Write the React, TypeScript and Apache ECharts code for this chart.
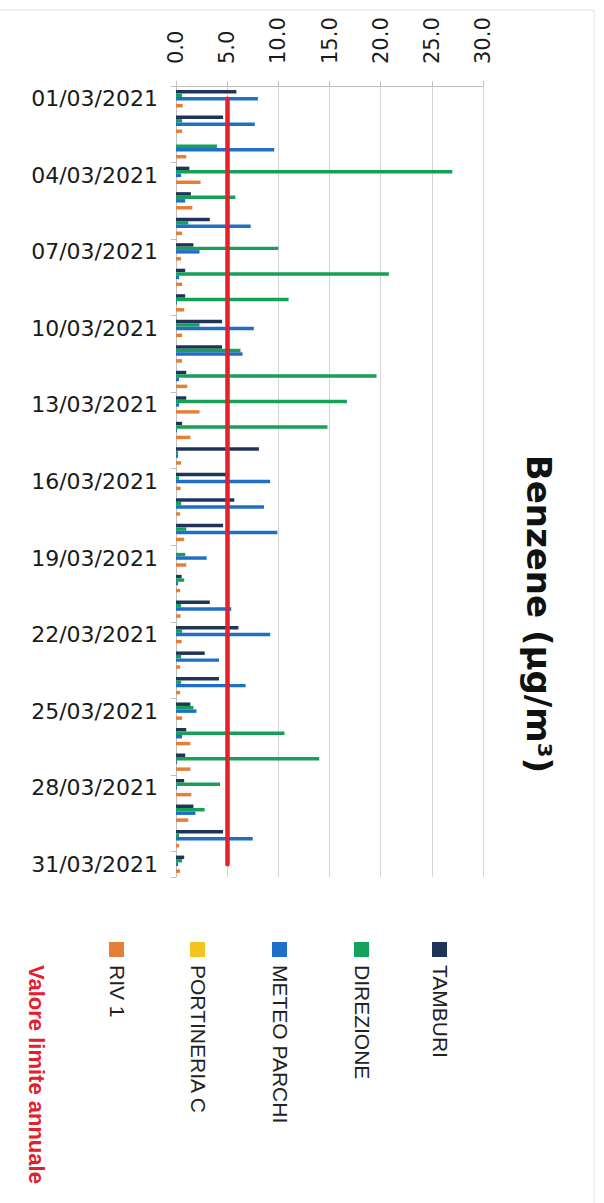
import React, { useEffect, useRef } from 'react';
import * as echarts from 'echarts';

const DATES = [
  '01/03/2021', '02/03/2021', '03/03/2021', '04/03/2021', '05/03/2021', '06/03/2021',
  '07/03/2021', '08/03/2021', '09/03/2021', '10/03/2021', '11/03/2021', '12/03/2021',
  '13/03/2021', '14/03/2021', '15/03/2021', '16/03/2021', '17/03/2021', '18/03/2021',
  '19/03/2021', '20/03/2021', '21/03/2021', '22/03/2021', '23/03/2021', '24/03/2021',
  '25/03/2021', '26/03/2021', '27/03/2021', '28/03/2021', '29/03/2021', '30/03/2021',
  '31/03/2021',
];

const TAMBURI = [5.9, 4.6, null, 1.3, 1.45, 3.3, 1.7, 0.9, 0.9, 4.5, 4.5, 1.0, 1.0, 0.6, 8.1, 5.2,
  5.7, 4.6, null, 0.55, 3.3, 6.1, 2.8, 4.2, 1.4, 1.0, 0.9, 0.8, 1.7, 4.6, 0.8];
const DIREZIONE = [0.6, 0.6, 4.0, 27.0, 5.8, 1.2, 10.0, 20.8, 11.0, 2.3, 6.3, 19.6, 16.7, 14.8, 0.2,
  0.3, 0.5, 1.0, 0.9, 0.8, 0.5, 0.6, 0.5, 0.5, 1.7, 10.6, 14.0, 4.3, 2.8, 0.3, 0.6];
const METEO_PARCHI = [8.0, 7.7, 9.6, 0.5, 0.9, 7.3, 2.3, 0.3, 0.1, 7.6, 6.5, 0.3, 0.3, 0.1, 0.2, 9.2,
  8.6, 9.9, 3.0, 0.2, 5.4, 9.2, 4.2, 6.8, 2.0, 0.6, 0.1, 0.1, 1.9, 7.5, 0.2];
const PORTINERIA_C = [null, null, null, null, null, null, null, null, null, null, null, null, null,
  null, null, null, null, null, null, null, null, null, null, null, null, null, null, null, null,
  null, null];
const RIV_1 = [0.65, 0.6, 1.0, 2.4, 1.6, 0.6, 0.5, 0.6, 0.8, 0.6, 0.6, 1.1, 2.3, 1.4, 0.5, 0.45,
  0.4, 0.8, 1.0, 0.4, 0.45, 0.55, 0.4, 0.4, 0.6, 1.4, 1.4, 1.5, 1.2, 0.3, 0.4];

const LIMIT = 5;
const X_TICKS_MIN = 0;
const X_TICKS_MAX = 30;
const X_TICKS_STEP = 5;

const SERIES_NAMES = ['TAMBURI', 'DIREZIONE', 'METEO PARCHI', 'PORTINERIA C', 'RIV 1'];
const SERIES_COLORS = ['#1f3457', '#17a05a', '#1f6fc6', '#f6c21c', '#e57f35'];
const LIMIT_NAME = 'Valore limite annuale';
const LIMIT_COLOR = '#e3202c';
const TITLE = 'Benzene (µg/m³)';

export default function App() {
  const ref = useRef<HTMLDivElement>(null);
  useEffect(() => {
    const chart = echarts.init(ref.current!, null, { renderer: 'svg' });
    const seriesData = [TAMBURI, DIREZIONE, METEO_PARCHI, PORTINERIA_C, RIV_1];
    const series: any[] = seriesData.map((d, i) => ({
      type: 'bar',
      name: SERIES_NAMES[i],
      data: d,
      itemStyle: { color: SERIES_COLORS[i] },
      barGap: '0%',
      barCategoryGap: '32%',
      z: 2,
    }));
    series.push({
      type: 'line',
      name: LIMIT_NAME,
      data: [],
      z: 5,
      markLine: {
        silent: true,
        symbol: ['none', 'none'],
        label: { show: false },
        lineStyle: { color: LIMIT_COLOR, width: 4.5, type: 'solid', cap: 'round' },
        data: [[{ coord: [LIMIT, DATES[0]] }, { coord: [LIMIT, DATES[DATES.length - 1]] }]],
      },
    });

    const legendCols = [440, 362, 280, 198, 117];
    const graphics: any[] = [];
    SERIES_NAMES.forEach((n, i) => {
      graphics.push({
        type: 'rect',
        shape: { x: legendCols[i] - 8, y: 942, width: 15, height: 15 },
        style: { fill: SERIES_COLORS[i] },
      });
      graphics.push({
        type: 'text',
        x: legendCols[i],
        y: 965,
        rotation: -Math.PI / 2,
        style: {
          text: n,
          fill: '#222',
          font: '21px "Liberation Sans", Arial, sans-serif',
          textAlign: 'left',
          textVerticalAlign: 'middle',
        },
      });
    });
    graphics.push({
      type: 'text',
      x: 36,
      y: 965,
      rotation: -Math.PI / 2,
      style: {
        text: LIMIT_NAME,
        fill: LIMIT_COLOR,
        font: 'bold 22px "Liberation Sans", Arial, sans-serif',
        textAlign: 'left',
        textVerticalAlign: 'middle',
      },
    });
    graphics.push({
      type: 'text',
      x: 539,
      y: 614,
      rotation: -Math.PI / 2,
      style: {
        text: TITLE,
        fill: '#111',
        font: 'bold 34px "DejaVu Sans", sans-serif',
        textAlign: 'center',
        textVerticalAlign: 'middle',
      },
    });
    graphics.push({
      type: 'line',
      shape: { x1: 0, y1: 10, x2: 594, y2: 10 },
      style: { stroke: '#e2e2e2', lineWidth: 1 },
    });
    graphics.push({
      type: 'line',
      shape: { x1: 594, y1: 10, x2: 594, y2: 1203 },
      style: { stroke: '#e2e2e2', lineWidth: 1 },
    });

    chart.setOption({
      animation: false,
      backgroundColor: '#fff',
      grid: { left: 176, top: 86, width: 307, height: 791, containLabel: false },
      xAxis: {
        type: 'value',
        position: 'top',
        min: X_TICKS_MIN,
        max: X_TICKS_MAX,
        interval: X_TICKS_STEP,
        axisLine: { show: true, lineStyle: { color: '#bfbfbf' } },
        axisTick: { show: true, length: 5, lineStyle: { color: '#bfbfbf' } },
        splitLine: { show: true, lineStyle: { color: '#d4d4d4' } },
        axisLabel: {
          rotate: -90,
          margin: 22,
          fontSize: 21,
          fontFamily: 'DejaVu Sans',
          color: '#1a1a1a',
          formatter: (v: number) => v.toFixed(1),
        },
      },
      yAxis: {
        type: 'category',
        inverse: true,
        data: DATES,
        axisLine: { show: true, lineStyle: { color: '#bfbfbf' } },
        axisTick: { show: true, interval: 2, length: 5, lineStyle: { color: '#bfbfbf' } },
        axisLabel: {
          interval: 2,
          margin: 18,
          fontSize: 22,
          fontFamily: 'DejaVu Sans',
          color: '#1a1a1a',
        },
      },
      graphic: graphics,
      series,
    });
    return () => chart.dispose();
  }, []);
  return (
    <div
      ref={ref}
      style={{ position: 'fixed', left: 0, top: 0, width: 604, height: 1203, background: '#fff' }}
    />
  );
}
